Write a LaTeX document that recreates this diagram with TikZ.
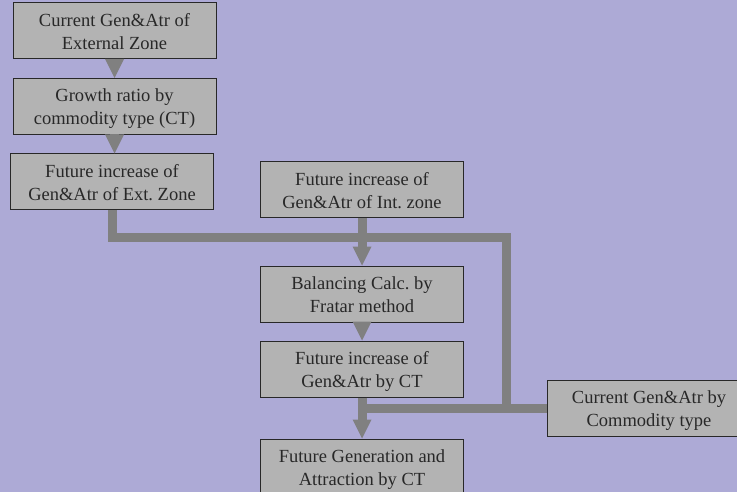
\documentclass[tikz,border=0pt]{standalone}
\usepackage{fontspec}
\setmainfont{Liberation Serif}
\usetikzlibrary{arrows.meta}
\frenchspacing
\definecolor{bgcol}{RGB}{173,170,214}
\definecolor{boxfill}{RGB}{179,179,179}
\definecolor{pipecol}{RGB}{128,128,128}
\definecolor{inkcol}{RGB}{40,40,40}
% two-line box label: fixed top strut on the first line, no depth on the last
\newcommand{\twoline}[2]{\rule{0pt}{13pt}#1\\\smash{#2}}
\tikzset{
  stepbox/.style={draw=inkcol, line width=1pt, fill=boxfill, text=inkcol,
    minimum width=203pt, minimum height=56pt, inner sep=0pt, align=center,
    font=\fontsize{18.5}{23}\selectfont},
  pipe/.style={draw=pipecol, line width=9pt, line join=miter},
  flow/.style={pipe, -{Triangle[width=19pt,length=19pt,line width=0pt]}},
}
\begin{document}
\begin{tikzpicture}[x=1pt,y=-1pt]
\useasboundingbox (0,0) rectangle (737,492);
\clip (0,0) rectangle (737,492);
\fill[bgcol] (0,0) rectangle (737,492);

% boxes
\node[stepbox] (cur)  at (114.5,31)   {\twoline{Current Gen\&Atr of}{External Zone}};
\node[stepbox] (grow) at (114.5,106.5){\twoline{Growth ratio by}{commodity type (CT)}};
\node[stepbox] (fext) at (112,182)    {\twoline{Future increase of}{Gen\&Atr of Ext. Zone}};
\node[stepbox] (fint) at (362,190)    {\twoline{Future increase of}{Gen\&Atr of Int. zone}};
\node[stepbox] (bal)  at (362,294)    {\twoline{Balancing Calc. by}{Fratar method}};
\node[stepbox] (fct)  at (362,369)    {\twoline{Future increase of}{Gen\&Atr by CT}};
\node[stepbox] (fga)  at (362,467)    {\twoline{Future Generation and}{Attraction by CT}};
\node[stepbox] (cct)  at (649,408.5)  {\twoline{Current Gen\&Atr by}{Commodity type}};

% routing points of the external-zone line
\coordinate (j1) at (506,237.5);
\coordinate (j2) at (506,408.5);

% connectors
\draw[flow] (cur.south) -- (grow.north);
\draw[flow] (grow.south) -- (grow.south |- fext.north);
\draw[pipe] (fext.south) |- (j1) -- (j2) -- (j2 -| fct.south);
\draw[pipe] (cct.west) -- (cct.west -| fct.south);
\draw[flow] (fint.south) -- (bal.north);
\draw[flow] (bal.south) -- (fct.north);
\draw[flow] (fct.south) -- (fga.north);
\end{tikzpicture}
\end{document}
